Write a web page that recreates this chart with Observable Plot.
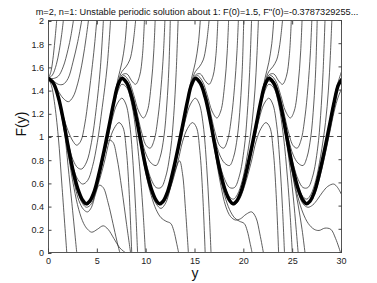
<!DOCTYPE html>
<html><head><meta charset="utf-8">
<script src="https://cdn.jsdelivr.net/npm/d3@7"></script>
<script src="https://cdn.jsdelivr.net/npm/@observablehq/plot@0.6"></script>
<style>body{margin:0;background:#fff}#chart svg{display:block}</style>
</head><body><div id="chart"></div>
<script>
const titleText = "m=2, n=1: Unstable periodic solution about 1: F(0)=1.5, F''(0)=-0.3787329255...";
const xLabel = "y";
const yLabel = "F(y)";
const xTicks = [0, 5, 10, 15, 20, 25, 30];
const yTicks = [0, 0.2, 0.4, 0.6, 0.8, 1, 1.2, 1.4, 1.6, 1.8, 2];
const dashLevel = [1];

// thick periodic solution
const periodic = [[0,1.5],[0.5,1.46],[1,1.34],[1.5,1.15],[2,0.92],[2.5,0.71],[3,0.55],[3.5,0.45],[3.85,0.42],[4.2,0.44],[4.7,0.53],[5.2,0.69],[5.7,0.88],[6.2,1.09],[6.7,1.3],[7.1,1.44],[7.52,1.5],
[8.02,1.46],[8.52,1.34],[9.02,1.15],[9.52,0.92],[10.02,0.71],[10.52,0.55],[11.02,0.45],[11.37,0.42],[11.72,0.44],[12.22,0.53],[12.72,0.69],[13.22,0.88],[13.72,1.09],[14.22,1.3],[14.62,1.44],[15.04,1.5],
[15.54,1.46],[16.04,1.34],[16.54,1.15],[17.04,0.92],[17.54,0.71],[18.04,0.55],[18.54,0.45],[18.89,0.42],[19.24,0.44],[19.74,0.53],[20.24,0.69],[20.74,0.88],[21.24,1.09],[21.74,1.3],[22.14,1.44],[22.56,1.5],
[23.06,1.46],[23.56,1.34],[24.06,1.15],[24.56,0.92],[25.06,0.71],[25.56,0.55],[26.06,0.45],[26.41,0.42],[26.76,0.44],[27.26,0.53],[27.76,0.69],[28.26,0.88],[28.76,1.09],[29.26,1.3],[29.66,1.44],[30,1.49]];

const startRising = [
 [[0,1.5],[0.25,1.56],[0.5,1.7],[0.7,1.87],[0.84,2.0]],
 [[0,1.5],[0.4,1.53],[0.8,1.62],[1.1,1.74],[1.35,1.88],[1.52,2.0]],
 [[0,1.5],[0.5,1.5],[1.0,1.52],[1.5,1.6],[2.0,1.75],[2.3,1.87],[2.55,2.0]],
 [[0,1.5],[0.5,1.48],[1.0,1.45],[1.5,1.45],[2.0,1.5],[2.5,1.64],[3.0,1.82],[3.4,2.0]],
 [[0,1.5],[0.5,1.46],[1.0,1.39],[1.5,1.33],[2.03,1.3],[2.5,1.34],[3.0,1.46],[3.5,1.66],[3.85,1.85],[4.09,2.0]],
 [[0,1.5],[0.5,1.45],[1.0,1.34],[1.5,1.18],[2.0,1.05],[2.5,0.96],[2.89,0.925],[3.3,0.96],[3.7,1.1],[4.1,1.34],[4.5,1.62],[4.75,1.82],[4.94,2.0]],
 [[0,1.5],[0.5,1.45],[1.0,1.33],[1.5,1.14],[2.0,0.95],[2.5,0.8],[3.0,0.73],[3.4,0.72],[3.9,0.78],[4.4,0.95],[4.9,1.25],[5.3,1.58],[5.62,2.0]],
 [[0,1.5],[0.5,1.46],[1.0,1.34],[1.5,1.15],[2.0,0.93],[2.5,0.74],[3.0,0.63],[3.5,0.59],[4.0,0.62],[4.5,0.74],[5.0,0.95],[5.5,1.25],[6.0,1.6],[6.35,2.0]]
];
const startFalling = [
 [[0,1.5],[0.3,1.44],[0.6,1.3],[1.0,1.0],[1.4,0.55],[1.87,0]],
 [[0,1.5],[0.5,1.45],[1.0,1.32],[1.4,1.15],[1.69,1.0],[2.0,0.75],[2.4,0.42],[2.89,0]],
 [[1.5,1.13],[2.0,0.86],[2.6,0.56],[3.1,0.37],[3.6,0.25],[4.0,0.2],[4.43,0.175],[5.0,0.2],[5.6,0.23],[6.1,0.2],[6.7,0.12],[7.3,0.04],[7.85,0]],
 [[1.5,1.14],[2.0,0.9],[2.6,0.62],[3.1,0.45],[3.6,0.37],[4.0,0.35],[4.4,0.39],[4.8,0.5],[5.2,0.58],[5.6,0.56],[6.1,0.43],[6.6,0.25],[7.0,0.1],[7.3,0]],
 [[2.0,0.91],[2.5,0.69],[3.0,0.52],[3.5,0.42],[3.9,0.39],[4.4,0.42],[4.9,0.55],[5.4,0.73],[5.8,0.88],[6.2,0.97],[6.6,0.95],[7.0,0.82],[7.5,0.55],[8.0,0.24],[8.4,0]]
];
const secondPeakRising = [
 [[6.22,1.11],[6.72,1.33],[7.12,1.5],[7.52,1.64],[7.82,1.8],[8.02,2.0]],
 [[6.22,1.1],[6.72,1.32],[7.12,1.47],[7.52,1.56],[7.92,1.6],[8.32,1.66],[8.62,1.78],[8.92,2.0]],
 [[6.52,1.23],[7.02,1.42],[7.52,1.53],[8.02,1.54],[8.52,1.48],[8.92,1.45],[9.32,1.52],[9.62,1.7],[9.82,2.0]],
 [[6.72,1.31],[7.22,1.47],[7.72,1.525],[8.22,1.48],[8.72,1.36],[9.22,1.22],[9.72,1.16],[10.12,1.22],[10.52,1.45],[10.77,1.72],[10.92,2.0]],
 [[7.02,1.45],[7.52,1.51],[8.02,1.48],[8.52,1.38],[9.02,1.22],[9.52,1.04],[10.02,0.92],[10.42,0.9],[10.82,0.97],[11.22,1.17],[11.52,1.42],[11.77,1.72],[11.92,2.0]],
 [[8.52,1.35],[9.02,1.17],[9.52,0.98],[10.02,0.84],[10.52,0.77],[11.02,0.75],[11.42,0.82],[11.82,1.0],[12.12,1.28],[12.32,1.58],[12.47,2.0]],
 [[9.02,1.16],[9.52,0.94],[10.12,0.73],[10.52,0.63],[11.02,0.56],[11.52,0.56],[12.02,0.66],[12.52,0.9],[12.82,1.18],[13.07,1.55],[13.27,2.0]]
];
const secondPeakFalling = [
 [[3.62,0.42],[4.02,0.41],[4.52,0.46],[5.02,0.57],[5.72,0.78],[6.22,0.96],[6.72,1.07],[7.22,1.12],[7.62,1.08],[7.97,0.88],[8.27,0.5],[8.52,0]],
 [[5.02,0.6],[5.52,0.78],[6.02,0.96],[6.52,1.15],[7.02,1.28],[7.52,1.33],[7.92,1.28],[8.32,1.1],[8.67,0.75],[8.92,0.38],[9.12,0]],
 [[6.52,1.2],[7.02,1.37],[7.52,1.45],[8.02,1.42],[8.52,1.28],[9.02,1.0],[9.42,0.65],[9.72,0.3],[9.92,0]],
 [[9.02,1.14],[9.52,0.89],[10.02,0.66],[10.52,0.49],[11.02,0.37],[11.52,0.3],[12.02,0.27],[12.52,0.25],[12.82,0.19],[13.12,0.08],[13.32,0]],
 [[10.02,0.69],[10.52,0.52],[11.02,0.42],[11.52,0.38],[12.02,0.43],[12.52,0.57],[13.02,0.72],[13.42,0.79],[13.72,0.68],[14.02,0.38],[14.32,0]]
];
const thirdPeakRising = [
 [[13.74,1.11],[14.24,1.33],[14.64,1.5],[15.04,1.64],[15.34,1.8],[15.54,2.0]],
 [[13.74,1.1],[14.24,1.32],[14.64,1.47],[15.04,1.56],[15.44,1.6],[15.84,1.66],[16.14,1.78],[16.44,2.0]],
 [[14.04,1.23],[14.54,1.42],[15.04,1.53],[15.54,1.54],[16.04,1.48],[16.44,1.45],[16.84,1.52],[17.14,1.7],[17.34,2.0]],
 [[14.24,1.31],[14.74,1.47],[15.24,1.525],[15.74,1.48],[16.24,1.36],[16.74,1.22],[17.24,1.16],[17.64,1.22],[18.04,1.45],[18.29,1.72],[18.44,2.0]],
 [[14.54,1.45],[15.04,1.51],[15.54,1.48],[16.04,1.38],[16.54,1.22],[17.04,1.04],[17.54,0.92],[17.94,0.9],[18.34,0.97],[18.74,1.17],[19.04,1.42],[19.29,1.72],[19.44,2.0]],
 [[16.04,1.35],[16.54,1.17],[17.04,0.98],[17.54,0.84],[18.04,0.77],[18.54,0.75],[18.94,0.82],[19.34,1.0],[19.64,1.28],[19.84,1.58],[19.99,2.0]],
 [[16.54,1.16],[17.04,0.94],[17.64,0.73],[18.04,0.63],[18.54,0.56],[19.04,0.56],[19.54,0.66],[20.04,0.9],[20.34,1.18],[20.59,1.55],[20.79,2.0]],
 [[17.04,0.93],[17.54,0.72],[18.04,0.57],[18.54,0.48],[18.94,0.46],[19.34,0.5],[19.84,0.62],[20.34,0.83],[20.84,1.12],[21.14,1.4],[21.34,1.7],[21.49,2.0]]
];
const thirdPeakFalling = [
 [[11.14,0.42],[11.54,0.41],[12.04,0.46],[12.54,0.57],[13.24,0.78],[13.74,0.96],[14.24,1.07],[14.74,1.12],[15.14,1.08],[15.49,0.88],[15.79,0.5],[16.04,0]],
 [[12.54,0.6],[13.04,0.78],[13.54,0.96],[14.04,1.15],[14.54,1.28],[15.04,1.33],[15.44,1.28],[15.84,1.1],[16.19,0.75],[16.44,0.38],[16.64,0]],
 [[16.54,1.14],[17.04,0.89],[17.54,0.66],[18.04,0.49],[18.54,0.37],[19.04,0.3],[19.54,0.27],[20.04,0.25],[20.34,0.19],[20.64,0.08],[20.84,0]],
 [[16.54,1.13],[17.04,0.87],[17.64,0.58],[18.14,0.4],[18.64,0.31],[19.14,0.28],[19.64,0.29],[20.24,0.33],[20.8,0.35],[21.24,0.3],[21.64,0.16],[22.0,0]]
];
const fourthPeakRising = [
 [[21.26,1.11],[21.76,1.33],[22.16,1.5],[22.56,1.64],[22.86,1.8],[23.06,2.0]],
 [[21.26,1.1],[21.76,1.32],[22.16,1.47],[22.56,1.56],[22.96,1.6],[23.36,1.66],[23.66,1.78],[23.96,2.0]],
 [[21.56,1.23],[22.06,1.42],[22.56,1.53],[23.06,1.54],[23.56,1.48],[23.96,1.45],[24.36,1.52],[24.66,1.7],[24.86,2.0]],
 [[21.76,1.31],[22.26,1.47],[22.76,1.525],[23.26,1.48],[23.76,1.36],[24.26,1.22],[24.76,1.16],[25.16,1.22],[25.56,1.45],[25.81,1.72],[25.96,2.0]],
 [[22.06,1.45],[22.56,1.51],[23.06,1.48],[23.56,1.38],[24.06,1.22],[24.56,1.04],[25.06,0.92],[25.46,0.9],[25.86,0.97],[26.26,1.17],[26.56,1.42],[26.81,1.72],[26.96,2.0]],
 [[23.56,1.35],[24.06,1.17],[24.56,0.98],[25.06,0.84],[25.56,0.77],[26.06,0.75],[26.46,0.82],[26.86,1.0],[27.16,1.28],[27.36,1.58],[27.51,2.0]],
 [[24.06,1.16],[24.56,0.94],[25.16,0.73],[25.56,0.63],[26.06,0.56],[26.56,0.56],[27.06,0.66],[27.56,0.9],[27.86,1.18],[28.11,1.55],[28.31,2.0]],
 [[24.56,0.93],[25.06,0.72],[25.56,0.57],[26.06,0.48],[26.46,0.46],[26.86,0.5],[27.36,0.62],[27.86,0.83],[28.36,1.12],[28.66,1.4],[28.86,1.7],[29.01,2.0]]
];
const fourthPeakFalling = [
 [[18.66,0.42],[19.06,0.41],[19.56,0.46],[20.06,0.57],[20.76,0.78],[21.26,0.96],[21.76,1.07],[22.26,1.12],[22.66,1.08],[23.01,0.88],[23.31,0.5],[23.56,0]],
 [[20.06,0.6],[20.56,0.78],[21.06,0.96],[21.56,1.15],[22.06,1.28],[22.56,1.33],[22.96,1.28],[23.36,1.1],[23.71,0.75],[23.96,0.38],[24.16,0]],
 [[21.56,1.2],[22.06,1.37],[22.56,1.45],[23.06,1.42],[23.56,1.28],[24.06,1.0],[24.46,0.65],[24.76,0.3],[24.96,0]],
 [[21.96,1.4],[22.56,1.48],[23.06,1.44],[23.56,1.32],[24.06,1.11],[24.56,0.84],[25.06,0.48],[25.36,0.2],[25.56,0]],
 [[22.56,1.5],[23.06,1.45],[23.56,1.32],[24.06,1.12],[24.56,0.88],[25.06,0.64],[25.56,0.41],[25.96,0.2],[26.26,0]]
];
const lastTrough = [
 [[24.06,1.14],[24.56,0.88],[25.06,0.65],[25.56,0.47],[26.06,0.34],[26.6,0.25],[27.2,0.2],[27.7,0.19],[28.3,0.21],[28.9,0.2],[29.4,0.12],[29.9,0]],
 [[25.06,0.69],[25.56,0.52],[26.06,0.42],[26.56,0.39],[27.06,0.41],[27.56,0.46],[28.06,0.52],[28.6,0.57],[29.2,0.59],[29.6,0.56],[30,0.5]],
 [[27.06,0.46],[27.56,0.6],[28.06,0.8],[28.56,1.02],[29.06,1.25],[29.56,1.44],[30,1.56]],
 [[27.26,0.5],[27.76,0.64],[28.26,0.82],[28.76,1.02],[29.26,1.22],[29.66,1.34],[30,1.41]]
];

const families = [startRising, startFalling, secondPeakRising, secondPeakFalling,
  thirdPeakRising, thirdPeakFalling, fourthPeakRising, fourthPeakFalling, lastTrough].flat();
const rows = [];
families.forEach((c, i) => c.forEach(([x, y]) => rows.push({id: i, x, y})));
const thick = periodic.map(([x, y]) => ({x, y}));
const fmt = d3.format("~g");

const chart = Plot.plot({
  width: 377, height: 283,
  marginLeft: 48, marginRight: 36, marginTop: 20, marginBottom: 31,
  style: {fontFamily: "'Liberation Sans', Arial, sans-serif", background: "#fff", color: "#222"},
  x: {domain: [0, 30], label: null},
  y: {domain: [0, 2], label: null},
  marks: [
    Plot.ruleY(dashLevel, {stroke: "#222", strokeWidth: 0.8, strokeDasharray: "5,3.5"}),
    Plot.line(rows, {x: "x", y: "y", z: "id", curve: "catmull-rom", stroke: "#2a2a2a", strokeWidth: 0.75, clip: true}),
    Plot.line(thick, {x: "x", y: "y", curve: "catmull-rom", stroke: "#000", strokeWidth: 3.5, clip: true}),
    Plot.frame({stroke: "#444", strokeWidth: 0.9}),
    Plot.axisX(xTicks, {anchor: "bottom", tickSize: -3.5, tickPadding: 8.5, fontSize: 9, tickFormat: fmt, label: null, stroke: "#444"}),
    Plot.axisX(xTicks, {anchor: "top", tickSize: -3.5, tickFormat: () => "", label: null, stroke: "#444"}),
    Plot.axisY(yTicks, {anchor: "left", tickSize: -3.5, tickPadding: 8, fontSize: 9, dy: 1, tickFormat: fmt, label: null, stroke: "#444"}),
    Plot.axisY(yTicks, {anchor: "right", tickSize: -3.5, tickFormat: () => "", label: null, stroke: "#444"}),
    Plot.text([titleText], {text: d => d, frameAnchor: "top", lineAnchor: "middle", dy: -8, dx: 2, fontSize: 9.2, fill: "#111"}),
    Plot.text([xLabel], {text: d => d, frameAnchor: "bottom", lineAnchor: "middle", dy: 21, fontSize: 14, fill: "#111"}),
    Plot.text([yLabel], {text: d => d, frameAnchor: "left", lineAnchor: "middle", dx: -27, rotate: -90, fontSize: 14, fill: "#111"})
  ]
});
document.getElementById("chart").appendChild(chart);
</script>
</body></html>
